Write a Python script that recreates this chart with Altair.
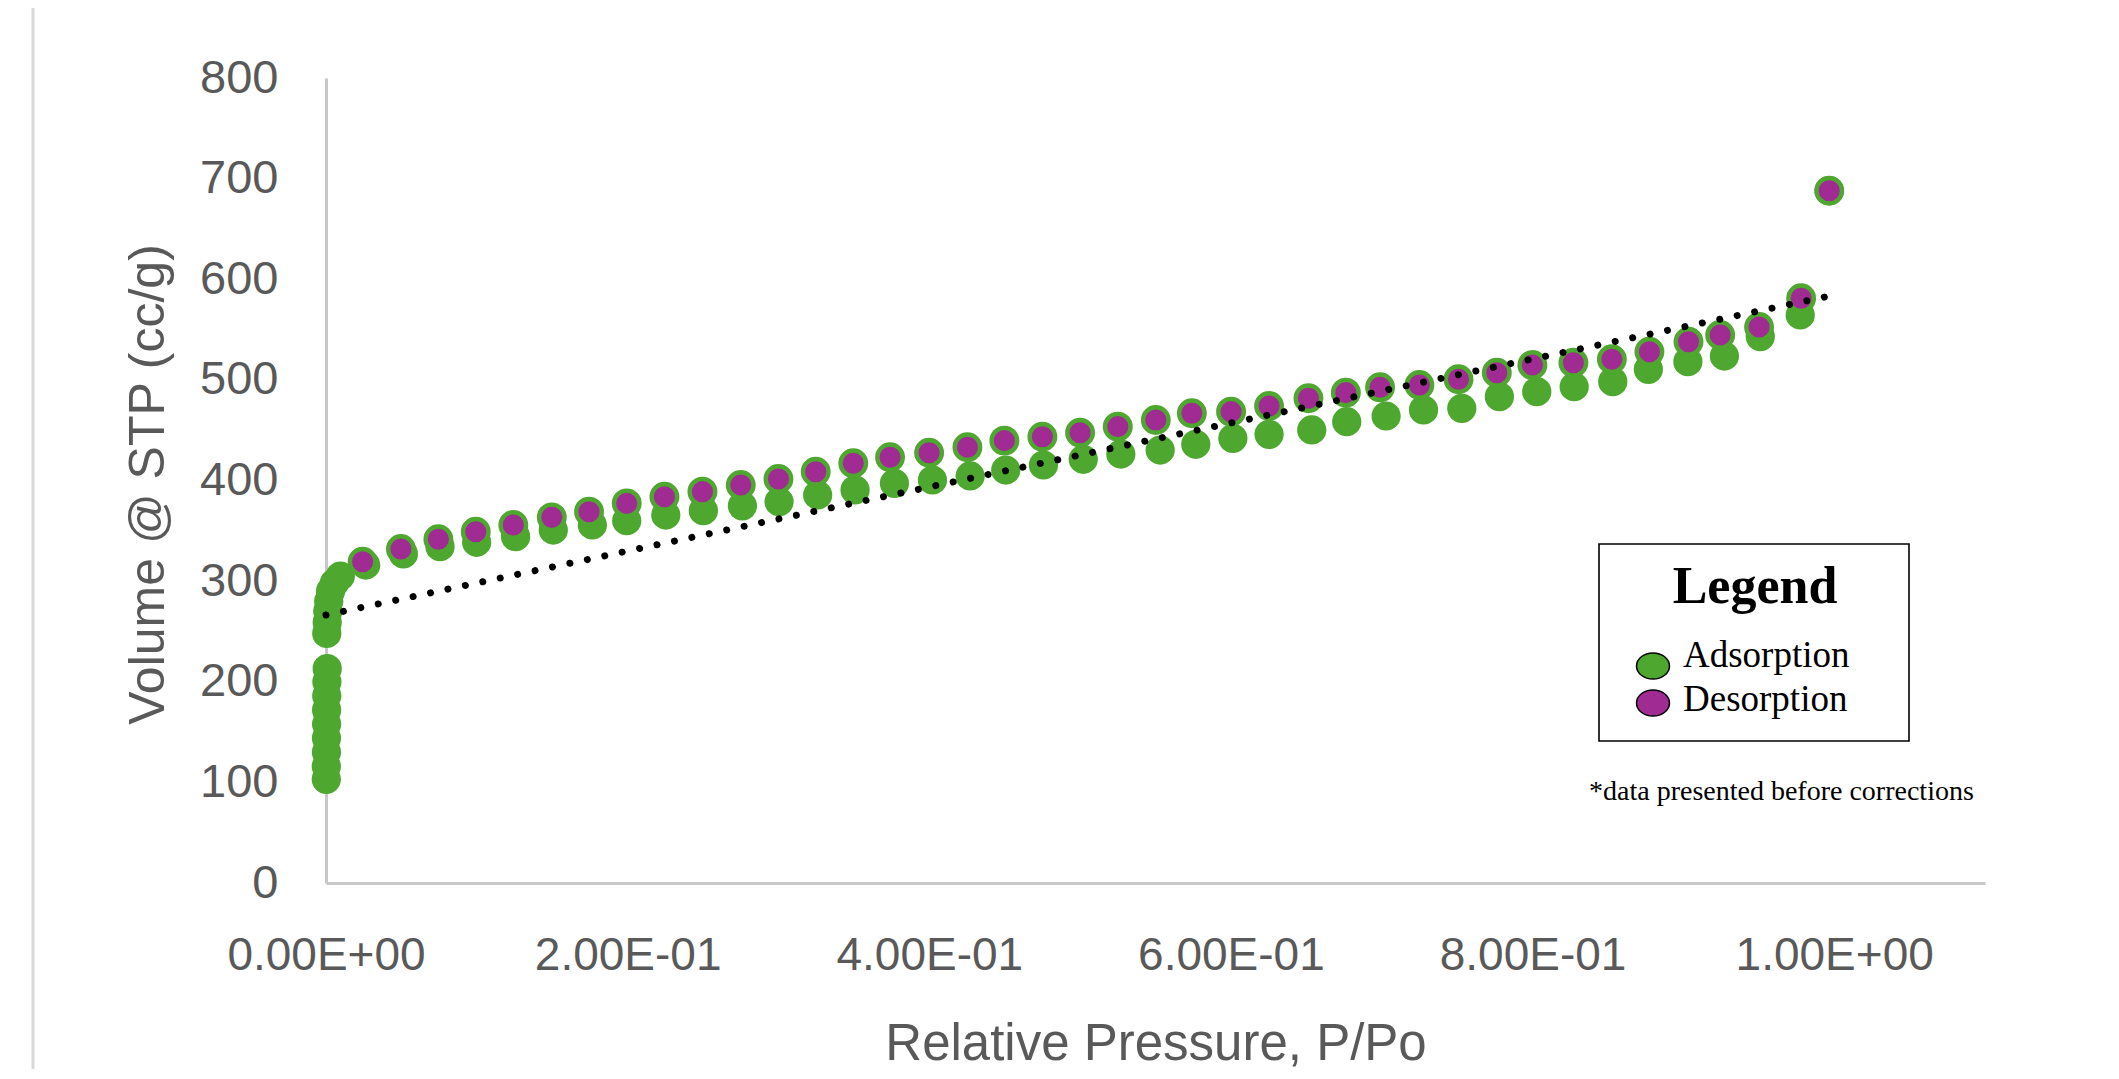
import altair as alt
import pandas as pd

# ---------------- data ----------------
ads_x = [0.0002, 0.0002, 0.0003, 0.0003, 0.0004, 0.0004, 0.0005, 0.0006, 0.0008,
         0.0005, 0.0008, 0.0012, 0.0018, 0.0030, 0.0055, 0.0095,
         0.0263, 0.0513, 0.0756, 0.0999, 0.1257, 0.1507, 0.1766, 0.1994, 0.2253,
         0.2502, 0.2761, 0.3004, 0.3260, 0.3508, 0.3769, 0.4021, 0.4271, 0.4507,
         0.4757, 0.5021, 0.5270, 0.5531, 0.5767, 0.6013, 0.6253, 0.6536, 0.6768,
         0.7029, 0.7277, 0.7531, 0.7780, 0.8028, 0.8276, 0.8532, 0.8768, 0.9030,
         0.9272, 0.9510, 0.9775, 0.9967]
ads_y = [103, 116, 130, 144, 158, 172, 186, 200, 213,
         248, 259, 270, 280, 290, 298, 305,
         316.0, 327.0, 334.2, 338.6, 344.2, 350.8, 355.8, 360.0, 365.7,
         370.0, 374.7, 378.9, 385.6, 390.6, 397.2, 400.5, 404.5, 410.4,
         415.4, 421.1, 426.3, 430.3, 436.0, 441.9, 445.9, 450.2, 458.4,
         464.1, 470.1, 471.7, 483.3, 488.3, 493.2, 498.2, 510.5, 518.1,
         523.7, 543.0, 564.5, 688.0]

des_x = [0.0243, 0.0497, 0.0745, 0.0993, 0.1242, 0.1497, 0.1744, 0.1994, 0.2244,
         0.2496, 0.2750, 0.3000, 0.3247, 0.3496, 0.3740, 0.3999, 0.4253, 0.4498,
         0.4750, 0.5000, 0.5250, 0.5502, 0.5741, 0.6001, 0.6253, 0.6514, 0.6762,
         0.6989, 0.7250, 0.7509, 0.7763, 0.7999, 0.8271, 0.8526, 0.8775, 0.9034,
         0.9244, 0.9502, 0.9781, 0.9967]
des_y = [319.3, 331.9, 341.6, 349.1, 355.8, 363.4, 369.0, 377.3, 383.9,
         388.9, 395.5, 401.5, 408.7, 417.1, 423.1, 427.6, 433.0, 439.6,
         443.5, 447.5, 453.5, 460.1, 466.8, 468.4, 474.0, 481.7, 487.3,
         492.6, 494.9, 500.6, 507.1, 514.8, 517.0, 520.5, 528.0, 537.9,
         544.6, 552.5, 581.1, 688.0]

# linear trend line end points (as drawn)
trend_x = [0.0, 0.9967]
trend_y = [266.3, 583.3]

x_ticks = [0.0, 0.2, 0.4, 0.6, 0.8, 1.0]
y_ticks = [0, 100, 200, 300, 400, 500, 600, 700, 800]

x_title = "Relative Pressure, P/Po"
y_title = "Volume @ STP (cc/g)"
legend_title = "Legend"
series_names = ["Adsorption", "Desorption"]
series_colors = ["#4EA72E", "#A02B93"]
note_text = "*data presented before corrections"

# ---------------- styling ----------------
GREEN, PURPLE = series_colors
TXT = "#595959"
AXIS_COL = "#c8c8c8"
SANS = "Liberation Sans"
SERIF = "Liberation Serif"
W, H = 1659, 805

ads_df = pd.DataFrame({"p": ads_x, "v": ads_y})
des_df = pd.DataFrame({"p": des_x, "v": des_y})
trend_df = pd.DataFrame({"p": trend_x, "v": trend_y})

xscale = alt.Scale(domain=[0, 1.1], nice=False, zero=False)
yscale = alt.Scale(domain=[0, 800], nice=False)

x_axis = alt.Axis(
    values=x_ticks,
    labelExpr="replace(replace(format(datum.value, '.2e'), 'e-', 'E-0'), 'e+', 'E+0')",
    title=x_title, grid=False, ticks=False, tickSize=0,
    domainColor=AXIS_COL, domainWidth=3,
    labelFont=SANS, labelFontSize=46, labelColor=TXT, labelPadding=50,
    labelFlush=False, labelOverlap=False, labelLimit=0,
    titleFont=SANS, titleFontSize=51, titleColor=TXT, titleFontWeight="normal",
    titleY=176, titleBaseline="alphabetic", titleLimit=0,
)
y_axis = alt.Axis(
    values=y_ticks, format="d",
    title=y_title, grid=False, ticks=False, tickSize=0,
    domainColor=AXIS_COL, domainWidth=3,
    labelFont=SANS, labelFontSize=47, labelColor=TXT, labelPadding=48, labelLimit=0,
    titleFont=SANS, titleFontSize=50, titleColor=TXT, titleFontWeight="normal",
    titleX=-178, titleY=406, titleAngle=270, titleAlign="center", titleBaseline="middle",
    titleLimit=0,
)

X = alt.X("p:Q", scale=xscale, axis=x_axis)
Y = alt.Y("v:Q", scale=yscale, axis=y_axis)

ads = alt.Chart(ads_df).mark_circle(size=855, color=GREEN, opacity=1).encode(x=X, y=Y)
des = alt.Chart(des_df).mark_circle(
    size=650, fill=PURPLE, stroke=GREEN, strokeWidth=4.4, opacity=1
).encode(x=X, y=Y)
trend = alt.Chart(trend_df).mark_line(
    color="black", strokeWidth=7, strokeDash=[0.01, 17.8], strokeCap="round"
).encode(x=X, y=Y)

one = pd.DataFrame({"a": [0]})

border = alt.Chart(one).mark_rule(color="#d9d9d9", strokeWidth=3).encode(
    x=alt.value(-293), y=alt.value(-80), y2=alt.value(1010)
)

legend_box = alt.Chart(one).mark_rect(fill="white", stroke="black", strokeWidth=1.6).encode(
    x=alt.value(1273), x2=alt.value(1583), y=alt.value(466), y2=alt.value(663)
)
legend_head = alt.Chart(pd.DataFrame({"t": [legend_title]})).mark_text(
    font=SERIF, fontWeight="bold", fontSize=52, align="center", baseline="alphabetic", color="black"
).encode(text="t:N", x=alt.value(1429), y=alt.value(525))

ELLIPSE = "M -1 0 A 1 0.79 0 1 1 1 0 A 1 0.79 0 1 1 -1 0 Z"
legend_layers = []
for i, (name, col) in enumerate(zip(series_names, series_colors)):
    d = pd.DataFrame({"t": [name]})
    sym = alt.Chart(d).mark_point(
        shape=ELLIPSE, size=1089, filled=True, fill=col, stroke="black",
        strokeWidth=1.5, opacity=1
    ).encode(x=alt.value(1327), y=alt.value(588 + 37 * i))
    lab = alt.Chart(d).mark_text(
        font=SERIF, fontSize=37, align="left", baseline="alphabetic", color="black"
    ).encode(text="t:N", x=alt.value(1357), y=alt.value(589 + 44 * i))
    legend_layers += [sym, lab]

note = alt.Chart(pd.DataFrame({"t": [note_text]})).mark_text(
    font=SERIF, fontSize=28, align="left", baseline="alphabetic", color="black"
).encode(text="t:N", x=alt.value(1263), y=alt.value(722))

chart = alt.layer(
    border, ads, des, trend, legend_box, legend_head, *legend_layers, note
).properties(
    width=W, height=H,
    autosize=alt.AutoSizeParams(type="none"),
    padding={"left": 318, "top": 70, "right": 120, "bottom": 186},
).configure_view(stroke=None)

chart.save("out.html", embed_options={"renderer": "svg", "actions": False})
